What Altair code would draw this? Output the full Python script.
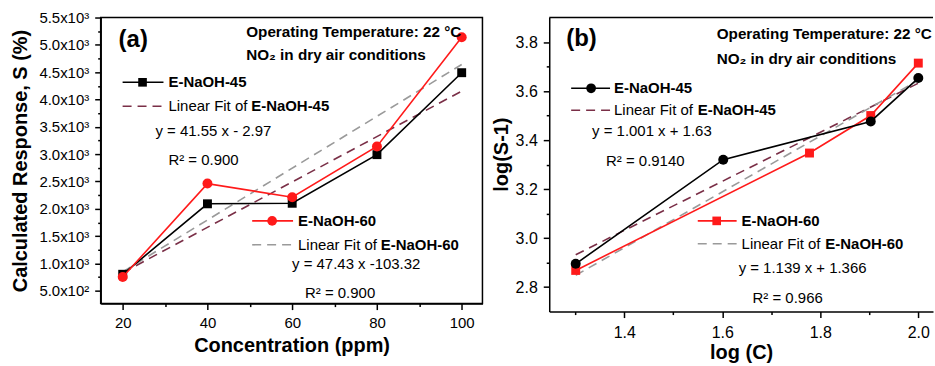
import altair as alt
import pandas as pd

FONT = "Liberation Sans"

# ---------------- Panel (a) data ----------------
conc = [20, 40, 60, 80, 100]
resp_45 = [800, 2090, 2100, 2990, 4490]
resp_60 = [750, 2460, 2210, 3140, 5140]
fit_a_x = [20, 100]
fit_a_45 = [828, 4152]
fit_a_60 = [845, 4640]
a_xticks = [20, 30, 40, 50, 60, 70, 80, 90, 100]
a_yticks = [500, 750, 1000, 1250, 1500, 1750, 2000, 2250, 2500, 2750, 3000,
            3250, 3500, 3750, 4000, 4250, 4500, 4750, 5000, 5250, 5500]

# ---------------- Panel (b) data ----------------
logc_45 = [1.301, 1.602, 1.903, 2.0]
logs_45 = [2.895, 3.320, 3.476, 3.653]
logc_60 = [1.301, 1.778, 1.903, 2.0]
logs_60 = [2.868, 3.347, 3.500, 3.714]
fit_b_x = [1.301, 2.0]
fit_b_45 = [2.932, 3.632]
fit_b_60 = [2.848, 3.644]
b_xticks = [1.3, 1.4, 1.5, 1.6, 1.7, 1.8, 1.9, 2.0]
b_yticks = [2.8, 2.9, 3.0, 3.1, 3.2, 3.3, 3.4, 3.5, 3.6, 3.7, 3.8]

BLACK = "#000000"
RED = "#ff1a1a"
MAROON = "#7a2f47"
GRAY = "#9a9a9a"
DASH = [9, 6]
HEAD = 15.3

ONE = pd.DataFrame({"d": [0]})


def mk_axis(values, test, label_expr, title, label_pad, title_pad, lsize, **extra):
    return alt.Axis(
        values=values, labelExpr=label_expr, title=title, grid=False,
        tickSize={"condition": {"test": test, "value": 6}, "value": 3},
        tickColor="black", tickWidth=1.5, domainColor="black", domainWidth=1.5,
        labelFont=FONT, labelFontSize=lsize, labelColor="black", labelPadding=label_pad,
        titleFont=FONT, titleFontSize=20, titleFontWeight="bold", titleColor="black",
        titlePadding=title_pad, **extra)


def txt(s, x, y, size=15, bold=False):
    return alt.Chart(ONE).mark_text(
        text=s, align="left", baseline="middle", font=FONT, fontSize=size,
        fontWeight="bold" if bold else "normal", color="black"
    ).encode(x=alt.value(x), y=alt.value(y))


def seg(x1, x2, y, color, dash=None):
    kw = dict(color=color, strokeWidth=1.6)
    if dash:
        kw["strokeDash"] = dash
    return alt.Chart(ONE).mark_rule(**kw).encode(
        x=alt.value(x1), x2=alt.value(x2), y=alt.value(y))


def sym(x, y, shape, color, size=75):
    return alt.Chart(ONE).mark_point(
        shape=shape, filled=True, size=size, color=color, opacity=1
    ).encode(x=alt.value(x), y=alt.value(y))


# ---------------- Panel (a) ----------------
ax_a_x = mk_axis(a_xticks, "datum.value % 20 == 0",
                 "datum.value % 20 == 0 ? format(datum.value, 'd') : ''",
                 "Concentration (ppm)", 6, 5, 15)
ax_a_y = mk_axis(a_yticks, "datum.value % 500 == 0",
                 "datum.value % 500 == 0 ? (datum.value < 1000 ? format(datum.value/100, '.1f') + 'x10²' : format(datum.value/1000, '.1f') + 'x10³') : ''",
                 "Calculated Response, S (%)", 6, 8, 15)
xa = alt.X("x:Q", scale=alt.Scale(domain=[14.8, 104.9], nice=False, zero=False), axis=ax_a_x)
ya = alt.Y("y:Q", scale=alt.Scale(domain=[263, 5500], nice=False, zero=False), axis=ax_a_y)

da45 = pd.DataFrame({"x": conc, "y": resp_45})
da60 = pd.DataFrame({"x": conc, "y": resp_60})
fa45 = pd.DataFrame({"x": fit_a_x, "y": fit_a_45})
fa60 = pd.DataFrame({"x": fit_a_x, "y": fit_a_60})

pa = alt.layer(
    alt.Chart(fa45).mark_line(color=MAROON, strokeWidth=1.6, strokeDash=DASH).encode(x=xa, y=ya),
    alt.Chart(fa60).mark_line(color=GRAY, strokeWidth=1.6, strokeDash=DASH).encode(x=xa, y=ya),
    alt.Chart(da45).mark_line(color=BLACK, strokeWidth=1.6).encode(x=xa, y=ya),
    alt.Chart(da45).mark_point(shape="square", filled=True, size=80, color=BLACK, opacity=1).encode(x=xa, y=ya),
    alt.Chart(da60).mark_line(color=RED, strokeWidth=1.6).encode(x=xa, y=ya),
    alt.Chart(da60).mark_point(shape="circle", filled=True, size=100, color=RED, opacity=1).encode(x=xa, y=ya),
    txt("(a)", 18, 23, 24, True),
    txt("Operating Temperature: 22 °C", 146, 15, HEAD, True),
    txt("NO₂ in dry air conditions", 146, 38, HEAD, True),
    seg(22, 63, 65, BLACK), sym(42, 65, "square", BLACK, 75),
    txt("E-NaOH-45", 68, 65, 15, True),
    seg(22, 63, 89, MAROON, DASH),
    txt("Linear Fit of", 68, 89, 15), txt("E-NaOH-45", 151, 89, 15, True),
    txt("y = 41.55 x - 2.97", 55, 114, 15),
    txt("R² = 0.900", 68, 143, 15),
    seg(152, 193, 204, RED), sym(172, 204, "circle", RED, 95),
    txt("E-NaOH-60", 198, 204, 15, True),
    seg(152, 193, 228, GRAY, DASH),
    txt("Linear Fit of", 198, 228, 15), txt("E-NaOH-60", 281, 228, 15, True),
    txt("y = 47.43 x -103.32", 192, 247, 15),
    txt("R² = 0.900", 205, 276, 15),
).properties(width=383, height=287)

# ---------------- Panel (b) ----------------
ax_b_x = mk_axis(b_xticks, "abs(round(datum.value*10) % 2) == 0",
                 "abs(round(datum.value*10) % 2) == 0 ? format(datum.value, '.1f') : ''",
                 "log (C)", 7, 2, 16)
ax_b_y = mk_axis(b_yticks, "abs(round(datum.value*10) % 2) == 0",
                 "abs(round(datum.value*10) % 2) == 0 ? format(datum.value, '.1f') : ''",
                 "log(S-1)", 6, 4, 16, titleY=137)
xb = alt.X("x:Q", scale=alt.Scale(domain=[1.247, 2.03], nice=False, zero=False), axis=ax_b_x)
yb = alt.Y("y:Q", scale=alt.Scale(domain=[2.70, 3.90], nice=False, zero=False), axis=ax_b_y)

db45 = pd.DataFrame({"x": logc_45, "y": logs_45})
db60 = pd.DataFrame({"x": logc_60, "y": logs_60})
fb45 = pd.DataFrame({"x": fit_b_x, "y": fit_b_45})
fb60 = pd.DataFrame({"x": fit_b_x, "y": fit_b_60})

pb = alt.layer(
    alt.Chart(fb45).mark_line(color=MAROON, strokeWidth=1.6, strokeDash=DASH).encode(x=xb, y=yb),
    alt.Chart(fb60).mark_line(color=GRAY, strokeWidth=1.6, strokeDash=DASH).encode(x=xb, y=yb),
    alt.Chart(db60).mark_line(color=RED, strokeWidth=1.6).encode(x=xb, y=yb),
    alt.Chart(db60).mark_point(shape="square", filled=True, size=80, color=RED, opacity=1).encode(x=xb, y=yb),
    alt.Chart(db45).mark_line(color=BLACK, strokeWidth=1.6).encode(x=xb, y=yb),
    alt.Chart(db45).mark_point(shape="circle", filled=True, size=100, color=BLACK, opacity=1).encode(x=xb, y=yb),
    seg(0, 385, 0, BLACK),
    txt("(b)", 17, 22, 24, True),
    txt("Operating Temperature: 22 °C", 168, 17, HEAD, True),
    txt("NO₂ in dry air conditions", 168, 42, HEAD, True),
    seg(22, 61, 71, BLACK), sym(42, 71, "circle", BLACK, 95),
    txt("E-NaOH-45", 65, 71, 15, True),
    seg(22, 61, 93, MAROON, DASH),
    txt("Linear Fit of", 65, 93, 15), txt("E-NaOH-45", 149, 93, 15, True),
    txt("y = 1.001 x + 1.63", 43, 114, 15),
    txt("R² = 0.9140", 57, 144, 15),
    seg(149, 188, 204, RED), sym(168, 204, "square", RED, 75),
    txt("E-NaOH-60", 193, 204, 15, True),
    seg(149, 188, 227, GRAY, DASH),
    txt("Linear Fit of", 193, 227, 15), txt("E-NaOH-60", 277, 227, 15, True),
    txt("y = 1.139 x + 1.366", 190, 251, 15),
    txt("R² = 0.966", 204, 281, 15),
).properties(width=385, height=295, view=alt.ViewBackground(stroke="transparent"))

chart = alt.hconcat(pa, pb, spacing=67, bounds="flush").properties(
    padding={"left": 10, "top": 9, "right": 0, "bottom": 0}
).configure_view(stroke="black", strokeWidth=1.5)

chart.save("out.html", embed_options={"renderer": "svg", "actions": False})
